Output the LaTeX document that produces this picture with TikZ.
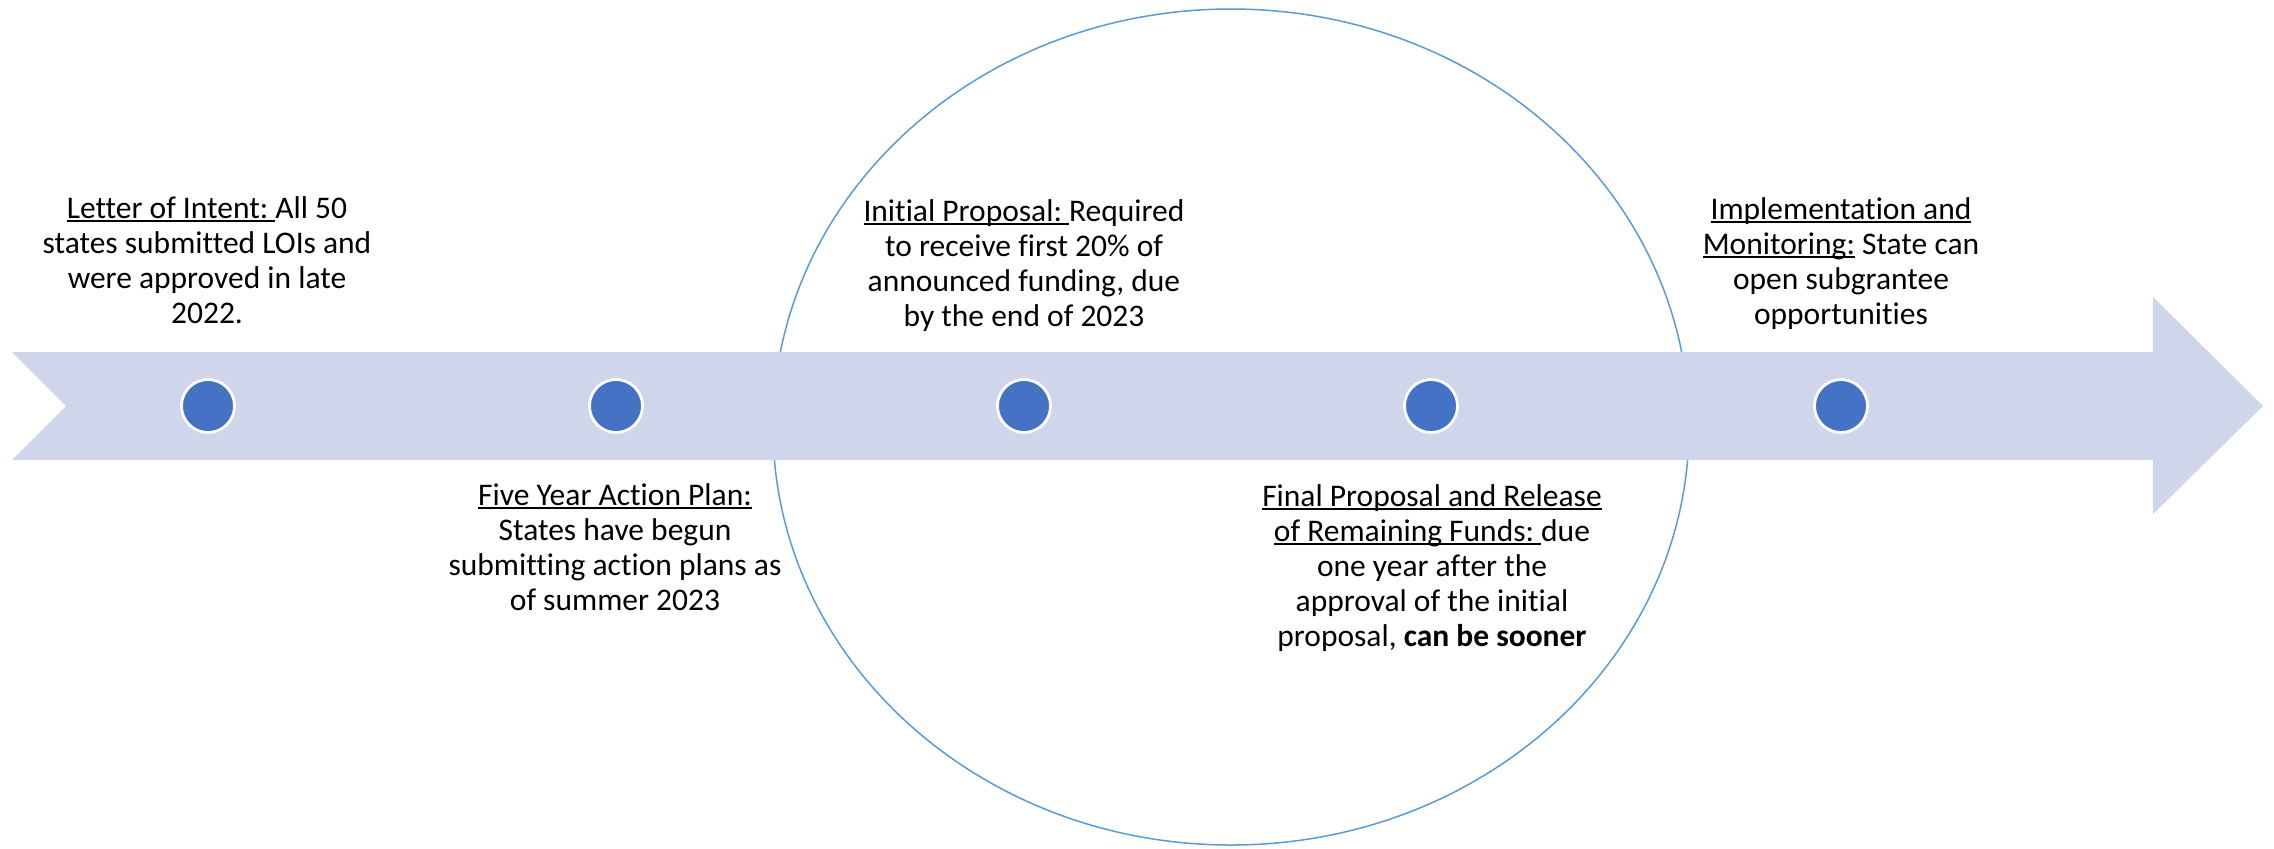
\documentclass[tikz,border=0pt]{standalone}
\usepackage{fontspec}
\setmainfont{Carlito}[Ligatures=CommonOff]
\frenchspacing
\definecolor{bandfill}{RGB}{207,213,234}
\definecolor{dotblue}{RGB}{68,114,196}
\definecolor{ringblue}{RGB}{91,155,213}
\newcommand\myul[1]{\setbox0\hbox{#1}\rlap{\rule[-1.9pt]{\wd0}{0.8pt}}\box0\relax}
\begin{document}
\begin{tikzpicture}[x=0.5pt,y=-0.5pt,
  dotnode/.style={circle,fill=dotblue,draw=white,line width=1.4pt,minimum size=26.5pt,inner sep=0pt},
  label/.style={align=center,inner sep=0pt,anchor=north,font=\fontsize{15.75}{17.5}\selectfont\frenchspacing}]
\useasboundingbox[fill=white] (0,0) rectangle (2274,848);
% big ellipse
\draw[ringblue,line width=0.75pt] (1231,427) ellipse [x radius=458,y radius=418];
% band arrow
\fill[bandfill] (12,352) -- (2153,352) -- (2153,297) -- (2263,406) -- (2153,514) -- (2153,460) -- (12,460) -- (66,406) -- cycle;
% dots
\node[dotnode] (d1) at (208,406) {};
\node[dotnode] (d2) at (616,406) {};
\node[dotnode] (d3) at (1024,406) {};
\node[dotnode] (d4) at (1431,406) {};
\node[dotnode] (d5) at (1841,406) {};
% texts
\node[label] (t1) at (207,196) {\myul{Letter of Intent: }All 50\\states submitted LOIs and\\were approved in late\\2022.};
\node[label] (t2) at (615,483) {\myul{Five Year Action Plan:}\\States have begun\\submitting action plans as\\of summer 2023};
\node[label] (t3) at (1024,199) {\myul{Initial Proposal: }Required\\to receive first 20\% of\\announced funding, due\\by the end of 2023};
\node[label] (t4) at (1432,484) {\myul{Final Proposal and Release}\\\myul{of Remaining Funds: }due\\one year after the\\approval of the initial\\proposal, \textbf{can be sooner}};
\node[label] (t5) at (1841,197) {\myul{Implementation and}\\\myul{Monitoring:} State can\\open subgrantee\\opportunities};
\end{tikzpicture}
\end{document}
